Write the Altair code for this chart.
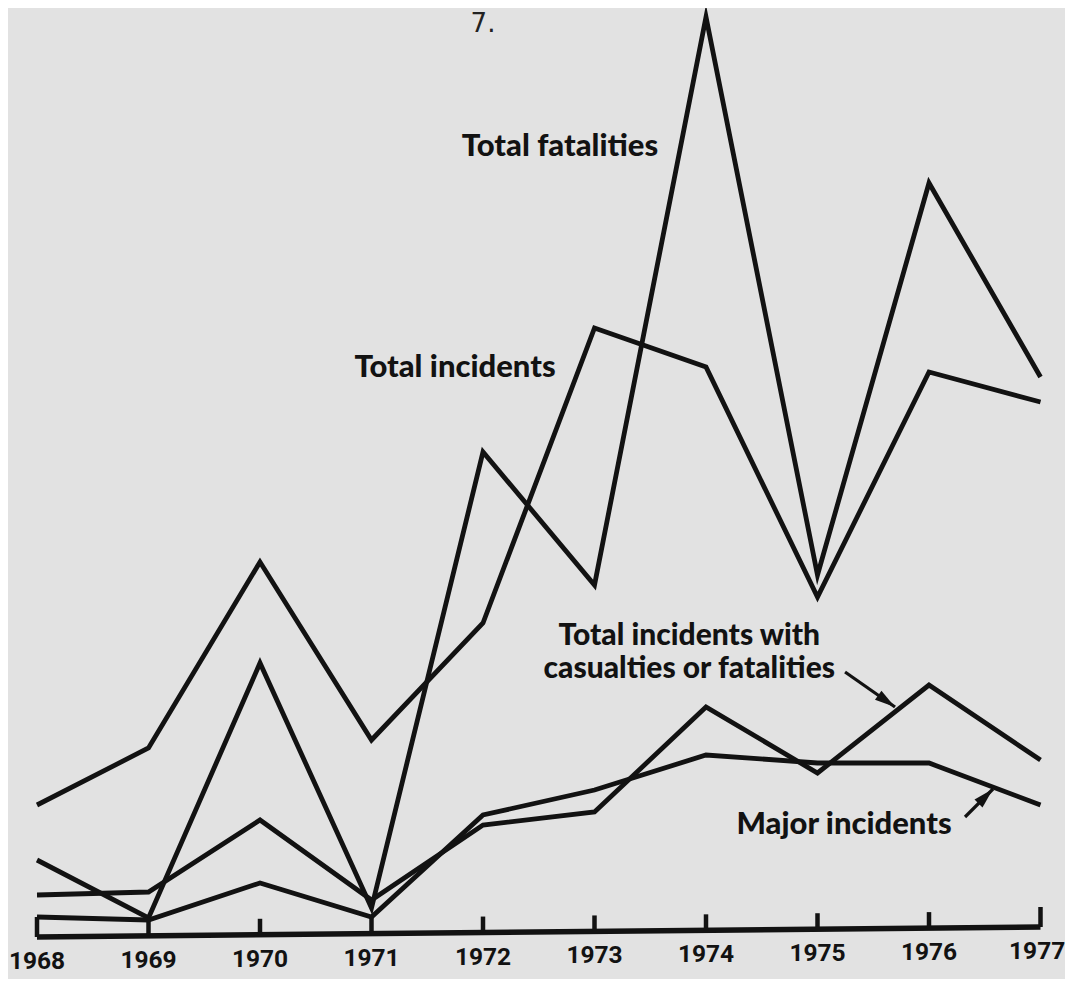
import altair as alt
import pandas as pd

# ---- data (relative heights above the baseline) ----
years = [1968, 1969, 1970, 1971, 1972, 1973, 1974, 1975, 1976, 1977]
total_fatalities = [77, 19, 274, 29, 485, 352, 920, 362, 754, 560]
total_incidents = [132, 189, 375, 197, 314, 609, 570, 340, 565, 535]
casualty_incidents = [42, 45, 117, 37, 112, 125, 230, 164, 252, 177]
major_incidents = [20, 17, 54, 20, 122, 147, 182, 174, 174, 132]
year_labels = [str(y) for y in years]

series = {
    "Total fatalities": total_fatalities,
    "Total incidents": total_incidents,
    "Total incidents with casualties or fatalities": casualty_incidents,
    "Major incidents": major_incidents,
}
rows = []
for name, vals in series.items():
    for yr, v in zip(years, vals):
        rows.append({"series": name, "year": yr, "value": v})
lines_df = pd.DataFrame(rows)

# ---- layout ----
W, H = 1057, 971
PX_PER_YEAR = 111.5
X0 = 1968 - 29 / PX_PER_YEAR
X_DOM = [X0, X0 + W / PX_PER_YEAR]
Y_DOM = [-42, 929]
INK = "#121212"
PAPER = "#e2e2e2"

xs = alt.Scale(domain=X_DOM, nice=False, zero=False)
ys = alt.Scale(domain=Y_DOM, nice=False, zero=False)


def X(field="year"):
    return alt.X(f"{field}:Q", scale=xs, axis=None)


def Y(field="value"):
    return alt.Y(f"{field}:Q", scale=ys, axis=None)


# slight skew of the scanned baseline
def base(yr):
    return (yr - 1968) * 10 / 9


axis_df = pd.DataFrame({"year": [1968, 1977], "value": [base(1968), base(1977)]})
tick_df = pd.DataFrame({
    "year": years,
    "value": [base(y) for y in years],
    "top": [base(y) + (20 if y in (1968, 1977) else 16) for y in years],
    "label": year_labels,
    "lx": [y - (0.03 if y == 1977 else 0) for y in years],
    "ly": [base(y) - 25 for y in years],
})

lines = alt.Chart(lines_df).mark_line(
    color=INK, strokeWidth=4.8, strokeJoin="miter", strokeMiterLimit=20
).encode(x=X(), y=Y(), detail="series:N", order="year:Q")

axis_line = alt.Chart(axis_df).mark_line(color=INK, strokeWidth=5.5).encode(x=X(), y=Y())
ticks = alt.Chart(tick_df).mark_rule(color=INK, strokeWidth=4.5).encode(
    x=X(), y=Y(), y2=alt.Y2("top:Q")
)
tick_labels = alt.Chart(tick_df).mark_text(
    font="Roboto", fontWeight="bold", fontSize=24.5,
    color=INK, baseline="middle", align="center"
).encode(x=X("lx"), y=Y("ly"), text="label:N")

# ---- annotations ----
label_df = pd.DataFrame({
    "year": [1972.69, 1971.749, 1975.238],
    "value": [790, 569, 112],
    "text": ["Total fatalities", "Total incidents", "Major incidents"],
})
labels = alt.Chart(label_df).mark_text(
    font="Lato", fontWeight=900, fontSize=31, color=INK,
    align="center", baseline="middle"
).encode(x=X(), y=Y(), text="text:N")

cas_df = pd.DataFrame({
    "year": [1973.85],
    "value": [301],
    "text": ["Total incidents with\ncasualties or fatalities"],
})
cas_label = alt.Chart(cas_df).mark_text(
    font="Lato", fontWeight=900, fontSize=30, color=INK,
    align="center", baseline="middle", lineBreak="\n", lineHeight=33
).encode(x=X(), y=Y(), text="text:N")

page_df = pd.DataFrame({"year": [1972.0], "value": [913], "text": ["7."]})
page_no = alt.Chart(page_df).mark_text(
    font="DejaVu Sans", fontSize=26, color="#222222", align="center", baseline="middle"
).encode(x=X(), y=Y(), text="text:N")

arrow_df = pd.DataFrame({
    "year": [1975.247, 1976.323],
    "value": [265, 120],
    "year2": [1975.695, 1976.574],
    "value2": [230, 148],
    "angle": [35, 315],
})
arrow_shafts = alt.Chart(arrow_df).mark_rule(color=INK, strokeWidth=3.2).encode(
    x=X(), y=Y(), x2=alt.X2("year2:Q"), y2=alt.Y2("value2:Q")
)
arrow_heads = alt.Chart(arrow_df).mark_point(
    shape="M 0 0 L -2 -0.55 L -2 0.55 Z", filled=True, color=INK, size=420, opacity=1
).encode(x=X("year2"), y=Y("value2"), angle=alt.Angle("angle:Q", scale=None))

chart = alt.layer(
    axis_line, ticks, lines, tick_labels, labels, cas_label, page_no,
    arrow_shafts, arrow_heads
).properties(
    width=W, height=H, background=PAPER, padding=0,
    autosize=alt.AutoSizeParams(type="none"),
).configure_view(strokeWidth=0)

chart.save("out.html", embed_options={"renderer": "svg", "actions": False})
